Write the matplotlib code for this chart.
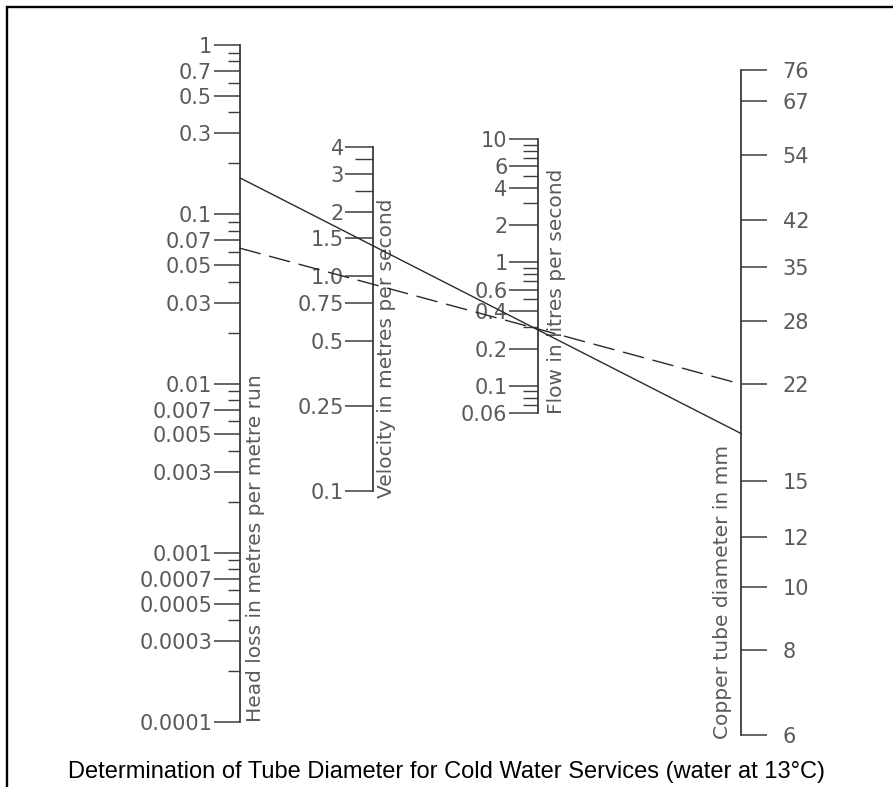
import matplotlib
matplotlib.use('Agg')
import matplotlib.pyplot as plt
from matplotlib.patches import ConnectionPatch
from matplotlib.lines import Line2D
from matplotlib.ticker import FixedLocator, FixedFormatter, NullFormatter

# 各刻度尺的數值
head_major = [1, 0.7, 0.5, 0.3, 0.1, 0.07, 0.05, 0.03, 0.01, 0.007, 0.005, 0.003,
              0.001, 0.0007, 0.0005, 0.0003, 0.0001]
head_labels = ['1', '0.7', '0.5', '0.3', '0.1', '0.07', '0.05', '0.03', '0.01', '0.007',
               '0.005', '0.003', '0.001', '0.0007', '0.0005', '0.0003', '0.0001']
head_minor = [0.9, 0.8, 0.6, 0.4, 0.2, 0.09, 0.08, 0.06, 0.04, 0.02,
              0.009, 0.008, 0.006, 0.004, 0.002, 0.0009, 0.0008, 0.0006, 0.0004, 0.0002]

vel_major = [4, 3, 2, 1.5, 1.0, 0.75, 0.5, 0.25, 0.1]
vel_labels = ['4', '3', '2', '1.5', '1.0', '0.75', '0.5', '0.25', '0.1']
vel_minor = [3.5, 2.5]

flow_major = [10, 6, 4, 2, 1, 0.6, 0.4, 0.2, 0.1, 0.06]
flow_labels = ['10', '6', '4', '2', '1', '0.6', '0.4', '0.2', '0.1', '0.06']
flow_minor = [9, 8, 7, 5, 3, 0.9, 0.8, 0.7, 0.5, 0.3, 0.09, 0.08, 0.07]

# 銅管：刻度位置用內徑 (mm)，標籤用公稱外徑
pipe_bore = [73.1, 64.3, 51.6, 39.6, 32.6, 26.2, 20.2, 13.6, 10.8, 8.8, 6.8, 4.8]
pipe_labels = ['76', '67', '54', '42', '35', '28', '22', '15', '12', '10', '8', '6']

# 示範連線：[head loss, bore]
solid_line = [0.164, 16.5]
dashed_line = [0.063, 20.2]

W, H = 893, 787
axis_color = '#3c3c3c'
label_color = '#5a5a5a'
fig = plt.figure(figsize=(W / 100, H / 100), dpi=100)


def make_scale(x, y_top, y_bot, lo, hi, major, labels, minor, side='left',
               maj_len=19, min_len=9, pad=1.0):
    ax = fig.add_axes([x / W, 1 - y_bot / H, 1 / W, (y_bot - y_top) / H])
    ax.set_yscale('log')
    ax.set_ylim(lo, hi)
    ax.set_xticks([])
    ax.patch.set_visible(False)
    for s in ax.spines.values():
        s.set_visible(False)
    ax.spines[side].set_visible(True)
    ax.spines[side].set_color(axis_color)
    ax.spines[side].set_linewidth(1.3)
    if side == 'right':
        ax.yaxis.tick_right()
    ax.yaxis.set_major_locator(FixedLocator(major))
    ax.yaxis.set_major_formatter(FixedFormatter(labels))
    ax.yaxis.set_minor_locator(FixedLocator(minor))
    ax.yaxis.set_minor_formatter(NullFormatter())
    ax.tick_params(axis='y', which='major', length=maj_len, width=1.1, color=axis_color,
                   labelsize=15, labelcolor=label_color, pad=pad)
    ax.tick_params(axis='y', which='minor', length=min_len, width=1.0, color=axis_color)
    return ax


ax_head = make_scale(240, 45, 722, 0.0001, 1, head_major, head_labels, head_minor,
                     maj_len=19, min_len=8.5)
ax_vel = make_scale(373, 147, 491, 0.1, 4, vel_major, vel_labels, vel_minor,
                    maj_len=20, min_len=13)
ax_flow = make_scale(538, 139, 413, 0.06, 10, flow_major, flow_labels, flow_minor,
                     maj_len=21, min_len=11)
ax_pipe = make_scale(740, 70, 735, 4.8, 73.1, pipe_bore, pipe_labels, [], side='right',
                     maj_len=19, pad=11)

# 軸名稱（直排）
title_kw = dict(rotation=90, fontsize=14.5, color=label_color, textcoords='offset points')
ax_head.annotate('Head loss in metres per metre run', xy=(0, 0.0001),
                 xycoords=ax_head.get_yaxis_transform(), xytext=(11, 0),
                 ha='center', va='bottom', **title_kw)
ax_vel.annotate('Velocity in metres per second', xy=(0, 0.1),
                xycoords=ax_vel.get_yaxis_transform(), xytext=(10, -5),
                ha='center', va='bottom', **title_kw)
ax_flow.annotate('Flow in litres per second', xy=(0, 0.06),
                 xycoords=ax_flow.get_yaxis_transform(), xytext=(13, -1),
                 ha='center', va='bottom', **title_kw)
ax_pipe.annotate('Copper tube diameter in mm', xy=(1, 4.8),
                 xycoords=ax_pipe.get_yaxis_transform(), xytext=(-13, -3),
                 ha='center', va='bottom', **title_kw)

# 連線
for vals, ls in [(solid_line, '-'), (dashed_line, (0, (15, 7)))]:
    con = ConnectionPatch(xyA=(0, vals[0]), coordsA=ax_head.get_yaxis_transform(),
                          xyB=(1, vals[1]), coordsB=ax_pipe.get_yaxis_transform(),
                          color='#2a2a2a', lw=1.0, linestyle=ls)
    fig.add_artist(con)

# 外框（左、上）
fig.add_artist(Line2D([7 / W, 7 / W, 1], [0, 1 - 7 / H, 1 - 7 / H],
                      transform=fig.transFigure, color='black', lw=1.7,
                      solid_joinstyle='miter'))

fig.text(446 / W, 1 - 778 / H,
         'Determination of Tube Diameter for Cold Water Services (water at 13°C)',
         ha='center', va='baseline', fontsize=17, family='Liberation Sans', color='black')

fig.savefig('out.png', dpi=100)
